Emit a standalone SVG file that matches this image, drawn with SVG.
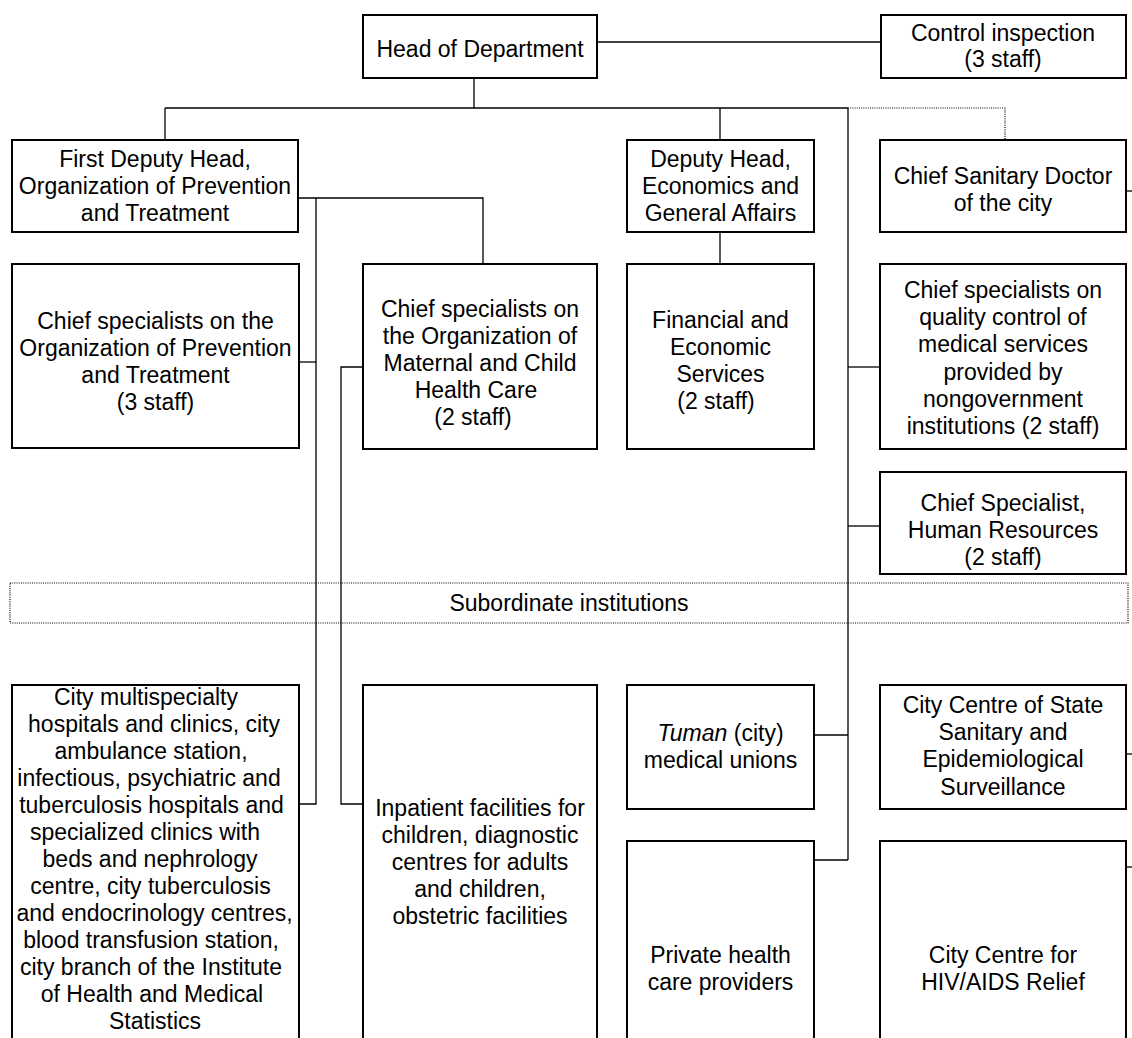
<svg xmlns="http://www.w3.org/2000/svg" width="1132" height="1038" viewBox="0 0 1132 1038">
  <style>
    .box { fill: #ffffff; stroke: #000000; stroke-width: 2; }
    .dotbox { fill: none; stroke: #000000; stroke-width: 1.2; stroke-dasharray: 1 1.2; }
    .link { fill: none; stroke: #000000; stroke-width: 1.3; }
    .dot { fill: none; stroke: #000000; stroke-width: 1.2; stroke-dasharray: 1 1.2; }
    text { font-family: "Liberation Sans", Arial, Helvetica, sans-serif; font-size: 23px; fill: #000000; text-anchor: middle; }
  </style>

  <rect width="1132" height="1038" fill="#ffffff"/>

  <!-- connectors -->
  <g id="connectors">
    <path class="link" d="M597 42 H881"/>
    <path class="link" d="M474 78 V108"/>
    <path class="link" d="M165 108 H848"/>
    <path class="link" d="M165 108 V140"/>
    <path class="link" d="M720 108 V140"/>
    <path class="link" d="M848 108 V860"/>
    <path class="dot" d="M848 108 H1005 V140"/>
    <path class="link" d="M298 198 H483 V264"/>
    <path class="link" d="M316 198 V804 H299"/>
    <path class="link" d="M299 362 H316"/>
    <path class="link" d="M363 367 H341 V804 H363"/>
    <path class="link" d="M720 232 V264"/>
    <path class="link" d="M848 367 H880"/>
    <path class="link" d="M848 526 H880"/>
    <path class="link" d="M814 735 H848"/>
    <path class="link" d="M814 860 H848"/>
    <path class="link" d="M1126 191 H1132"/>
    <path class="link" d="M1126 754 H1132"/>
    <path class="link" d="M1126 867 H1132"/>
  </g>

  <!-- top level -->
  <g id="head">
    <rect class="box" x="363" y="15" width="234" height="63"/>
    <text x="480" y="57">Head of Department</text>
  </g>
  <g id="control-inspection">
    <rect class="box" x="881" y="15" width="245" height="63"/>
    <text x="1003" y="41">Control inspection</text>
    <text x="1003" y="67">(3 staff)</text>
  </g>

  <!-- deputies -->
  <g id="first-deputy">
    <rect class="box" x="12" y="140" width="286" height="92"/>
    <text x="155" y="167">First Deputy Head,</text>
    <text x="155" y="194">Organization of Prevention</text>
    <text x="155" y="221">and Treatment</text>
  </g>
  <g id="deputy-economics">
    <rect class="box" x="627" y="140" width="187" height="92"/>
    <text x="720.5" y="167">Deputy Head,</text>
    <text x="720.5" y="194">Economics and</text>
    <text x="720.5" y="221">General Affairs</text>
  </g>
  <g id="chief-sanitary">
    <rect class="box" x="880" y="140" width="246" height="92"/>
    <text x="1003" y="184">Chief Sanitary Doctor</text>
    <text x="1003" y="211">of the city</text>
  </g>

  <!-- specialists -->
  <g id="specialists-prevention">
    <rect class="box" x="12" y="264" width="287" height="184"/>
    <text x="155.5" y="329">Chief specialists on the</text>
    <text x="155.5" y="356">Organization of Prevention</text>
    <text x="155.5" y="383">and Treatment</text>
    <text x="155.5" y="410">(3 staff)</text>
  </g>
  <g id="specialists-maternal">
    <rect class="box" x="363" y="264" width="234" height="185"/>
    <text x="480" y="317">Chief specialists on</text>
    <text x="480" y="344">the Organization of</text>
    <text x="480" y="371">Maternal and Child</text>
    <text x="476" y="398">Health Care</text>
    <text x="473" y="425">(2 staff)</text>
  </g>
  <g id="financial-services">
    <rect class="box" x="627" y="264" width="187" height="185"/>
    <text x="720.5" y="328">Financial and</text>
    <text x="720.5" y="355">Economic</text>
    <text x="720.5" y="382">Services</text>
    <text x="716" y="409">(2 staff)</text>
  </g>
  <g id="specialists-quality">
    <rect class="box" x="880" y="264" width="246" height="185"/>
    <text x="1003" y="298">Chief specialists on</text>
    <text x="1003" y="325">quality control of</text>
    <text x="1003" y="352">medical services</text>
    <text x="1003" y="380">provided by</text>
    <text x="1003" y="407">nongovernment</text>
    <text x="1003" y="434">institutions (2 staff)</text>
  </g>
  <g id="human-resources">
    <rect class="box" x="880" y="472" width="246" height="102"/>
    <text x="1003" y="511">Chief Specialist,</text>
    <text x="1003" y="538">Human Resources</text>
    <text x="1003" y="565">(2 staff)</text>
  </g>

  <!-- band label -->
  <g id="subordinate-institutions">
    <rect class="dotbox" x="10" y="583" width="1118" height="40"/>
    <text x="569" y="611">Subordinate institutions</text>
  </g>

  <!-- subordinate institutions -->
  <g id="city-hospitals">
    <rect class="box" x="12" y="685" width="287" height="360"/>
    <text x="146" y="705">City multispecialty</text>
    <text x="154" y="732">hospitals and clinics, city</text>
    <text x="151" y="759">ambulance station,</text>
    <text x="149" y="786">infectious, psychiatric and</text>
    <text x="151.5" y="813">tuberculosis hospitals and</text>
    <text x="145" y="840">specialized clinics with</text>
    <text x="150" y="867">beds and nephrology</text>
    <text x="150.5" y="894">centre, city tuberculosis</text>
    <text x="154.5" y="921">and endocrinology centres,</text>
    <text x="151" y="948">blood transfusion station,</text>
    <text x="151" y="975">city branch of the Institute</text>
    <text x="152" y="1002">of Health and Medical</text>
    <text x="155" y="1029">Statistics</text>
  </g>
  <g id="inpatient-facilities">
    <rect class="box" x="363" y="685" width="234" height="360"/>
    <text x="480" y="816">Inpatient facilities for</text>
    <text x="480" y="843">children, diagnostic</text>
    <text x="480" y="870">centres for adults</text>
    <text x="480" y="897">and children,</text>
    <text x="480" y="924">obstetric facilities</text>
  </g>
  <g id="tuman-unions">
    <rect class="box" x="627" y="685" width="187" height="124"/>
    <text x="720.5" y="741"><tspan font-style="italic">Tuman</tspan> (city)</text>
    <text x="720.5" y="768">medical unions</text>
  </g>
  <g id="private-providers">
    <rect class="box" x="627" y="841" width="187" height="204"/>
    <text x="720.5" y="963">Private health</text>
    <text x="720.5" y="990">care providers</text>
  </g>
  <g id="sanitary-centre">
    <rect class="box" x="880" y="685" width="246" height="124"/>
    <text x="1003" y="713">City Centre of State</text>
    <text x="1003" y="740">Sanitary and</text>
    <text x="1003" y="767">Epidemiological</text>
    <text x="1003" y="795">Surveillance</text>
  </g>
  <g id="hiv-centre">
    <rect class="box" x="880" y="841" width="246" height="204"/>
    <text x="1003" y="963">City Centre for</text>
    <text x="1003" y="990">HIV/AIDS Relief</text>
  </g>
</svg>
